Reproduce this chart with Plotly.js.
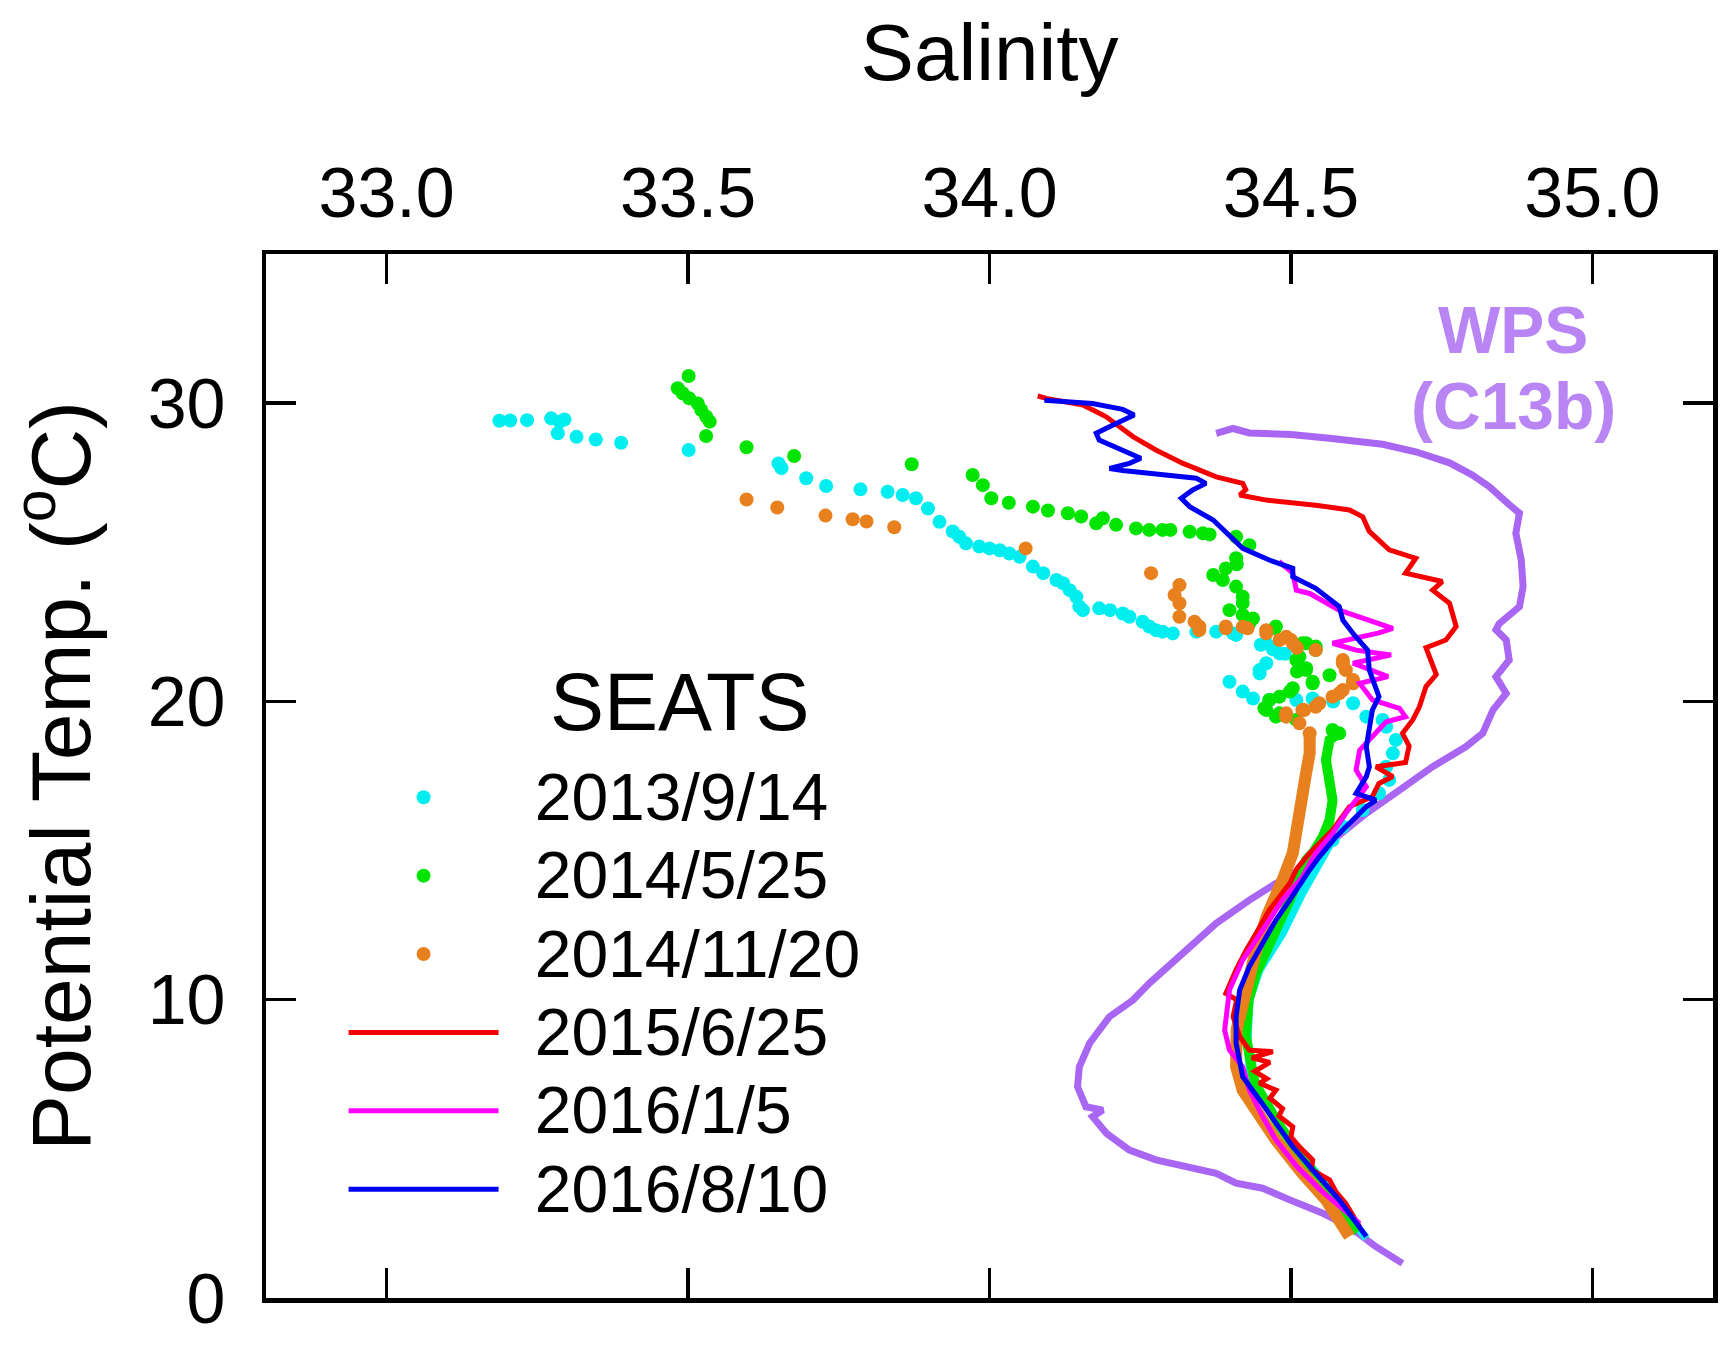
<!DOCTYPE html>
<html><head><meta charset="utf-8">
<script src="https://cdn.plot.ly/plotly-3.0.1.min.js"></script>
<style>html,body{margin:0;padding:0;background:#fff}#chart{width:1734px;height:1347px}</style>
</head><body><div id="chart"></div>
<script>
// ---- tick labels ----
const xTickVals = [33.0, 33.5, 34.0, 34.5, 35.0];
const xTickText = ['33.0', '33.5', '34.0', '34.5', '35.0'];
const yTickVals = [0, 10, 20, 30];
const yTickText = ['0', '10', '20', '30'];
const seriesNames = ['2013/9/14', '2014/5/25', '2014/11/20', '2015/6/25', '2016/1/5', '2016/8/10'];

// ---- data: [salinity, potential temperature] ----
const wps = [[34.376,28.99],[34.404,29.15],[34.431,29.0],[34.50,28.95],[34.564,28.82],[34.652,28.62],[34.707,28.37],[34.763,28.0],[34.80,27.6],[34.829,27.2],[34.862,26.6],[34.879,26.31],[34.873,25.64],[34.882,24.74],[34.885,23.85],[34.879,23.18],[34.845,22.6],[34.84,22.4],[34.857,22.06],[34.862,21.39],[34.840,20.83],[34.857,20.27],[34.835,19.71],[34.818,18.93],[34.79,18.48],[34.735,17.81],[34.680,17.03],[34.625,16.25],[34.570,15.35],[34.531,14.57],[34.475,13.9],[34.431,13.34],[34.376,12.56],[34.332,11.78],[34.293,11.11],[34.265,10.55],[34.238,9.99],[34.199,9.43],[34.166,8.54],[34.149,7.75],[34.146,7.08],[34.160,6.41],[34.188,6.30],[34.171,6.08],[34.194,5.52],[34.232,4.96],[34.276,4.63],[34.332,4.40],[34.376,4.18],[34.409,3.85],[34.453,3.68],[34.498,3.29],[34.553,2.84],[34.597,2.39],[34.641,1.72],[34.685,1.16]];

const cyanPts = [[33.187,29.41],[33.205,29.42],[33.233,29.43],[33.273,29.49],[33.287,29.38],[33.295,29.45],[33.284,28.99],[33.315,28.87],[33.347,28.78],[33.389,28.67],[33.501,28.43],[33.650,27.98],[33.655,27.82],[33.696,27.48],[33.729,27.22],[33.786,27.11],[33.831,27.03],[33.856,26.92],[33.878,26.81],[33.898,26.47],[33.917,26.02],[33.939,25.70],[33.950,25.52],[33.961,25.30],[33.983,25.19],[34.000,25.13],[34.017,25.07],[34.033,24.96],[34.050,24.85],[34.072,24.52],[34.089,24.30],[34.111,24.07],[34.122,23.96],[34.133,23.73],[34.144,23.51],[34.149,23.18],[34.155,23.06],[34.182,23.12],[34.200,23.06],[34.221,22.95],[34.232,22.84],[34.254,22.67],[34.265,22.51],[34.276,22.39],[34.287,22.34],[34.304,22.28],[34.343,22.34],[34.376,22.34],[34.404,22.28],[34.409,22.23],[34.450,21.90],[34.459,21.95],[34.470,21.75],[34.481,21.61],[34.490,21.60],[34.459,21.28],[34.448,21.05],[34.448,20.94],[34.398,20.66],[34.420,20.33],[34.437,20.10],[34.464,20.05],[34.509,20.05],[34.536,20.10],[34.570,20.00],[34.603,19.94],[34.625,19.49],[34.652,19.38],[34.658,19.15],[34.674,18.71],[34.669,18.26],[34.658,17.81],[34.663,17.37],[34.646,16.92],[34.619,16.36],[34.586,15.80],[34.569,15.35]];
const cyanDeep = [[34.569,15.35],[34.545,14.5],[34.519,13.57],[34.486,12.22],[34.448,11.0],[34.431,9.99],[34.428,8.54],[34.432,7.6],[34.46,6.5],[34.50,5.2],[34.55,4.0],[34.625,2.0]];

const greenPts = [[33.501,30.91],[33.483,30.50],[33.491,30.33],[33.502,30.16],[33.516,29.99],[33.522,29.77],[33.530,29.55],[33.536,29.38],[33.530,28.90],[33.597,28.52],[33.676,28.23],[33.871,27.95],[33.972,27.59],[33.989,27.25],[34.003,26.81],[34.032,26.66],[34.072,26.53],[34.097,26.40],[34.130,26.31],[34.152,26.20],[34.177,25.97],[34.188,26.14],[34.210,25.92],[34.243,25.80],[34.265,25.75],[34.287,25.75],[34.300,25.75],[34.332,25.69],[34.354,25.64],[34.365,25.60],[34.409,25.52],[34.431,25.24],[34.409,24.80],[34.410,24.60],[34.392,24.46],[34.371,24.24],[34.387,24.07],[34.409,23.85],[34.420,23.51],[34.420,23.30],[34.398,23.06],[34.420,22.90],[34.437,22.78],[34.431,22.62],[34.473,22.45],[34.475,22.51],[34.519,21.95],[34.525,21.95],[34.541,21.84],[34.541,21.72],[34.514,21.50],[34.509,21.39],[34.525,21.11],[34.510,21.00],[34.525,21.05],[34.564,20.88],[34.536,20.66],[34.536,20.61],[34.503,20.44],[34.498,20.33],[34.481,20.16],[34.464,20.05],[34.456,19.77],[34.459,19.71],[34.481,19.60],[34.475,19.49],[34.509,19.38],[34.569,19.04],[34.580,18.93]];
const greenDeep = [[34.580,18.93],[34.564,18.71],[34.558,18.04],[34.564,17.37],[34.569,16.69],[34.564,16.02],[34.553,15.47],[34.536,14.91],[34.525,14.68],[34.498,13.34],[34.470,12.11],[34.442,10.88],[34.430,10.0],[34.425,8.8],[34.440,7.2],[34.480,5.8],[34.530,4.4],[34.610,2.2]];

const orangePts = [[33.597,26.77],[33.648,26.50],[33.728,26.23],[33.773,26.11],[33.796,26.03],[33.842,25.84],[34.060,25.13],[34.268,24.30],[34.315,23.90],[34.307,23.57],[34.315,23.29],[34.315,22.84],[34.340,22.67],[34.348,22.51],[34.348,22.39],[34.392,22.45],[34.392,22.51],[34.420,22.50],[34.428,22.45],[34.459,22.39],[34.459,22.28],[34.481,22.06],[34.492,22.17],[34.503,21.95],[34.500,22.06],[34.510,21.80],[34.541,21.72],[34.586,21.39],[34.586,21.28],[34.591,21.05],[34.603,20.72],[34.603,20.61],[34.586,20.38],[34.580,20.27],[34.569,20.16],[34.547,19.94],[34.541,19.82],[34.522,19.71],[34.519,19.71],[34.492,19.60],[34.492,19.49],[34.514,19.27],[34.531,18.93]];
const orangeDeep = [[34.531,18.93],[34.531,18.26],[34.525,17.59],[34.519,16.92],[34.514,16.25],[34.509,15.58],[34.503,14.91],[34.486,14.01],[34.460,12.80],[34.440,11.50],[34.426,10.21],[34.410,9.00],[34.409,7.75],[34.420,6.97],[34.442,6.30],[34.475,5.30],[34.519,4.18],[34.558,3.29],[34.597,2.06]];

const red = [[34.080,30.24],[34.094,30.16],[34.155,29.94],[34.193,29.55],[34.238,28.88],[34.276,28.43],[34.321,27.98],[34.376,27.53],[34.420,27.31],[34.425,27.1],[34.415,26.92],[34.459,26.75],[34.541,26.58],[34.597,26.42],[34.619,26.19],[34.630,25.7],[34.663,25.08],[34.707,24.8],[34.690,24.30],[34.751,24.02],[34.735,23.73],[34.763,23.29],[34.774,22.51],[34.757,22.06],[34.724,21.8],[34.735,21.17],[34.741,20.9],[34.724,20.5],[34.713,19.82],[34.702,19.38],[34.685,18.93],[34.696,18.5],[34.690,17.95],[34.641,17.81],[34.669,17.48],[34.646,17.25],[34.635,16.81],[34.597,16.47],[34.569,15.69],[34.531,14.91],[34.51,14.4],[34.498,13.9],[34.464,13.0],[34.442,12.22],[34.426,11.67],[34.409,11.0],[34.392,10.21],[34.41,10.0],[34.404,9.43],[34.415,8.76],[34.431,8.31],[34.47,8.26],[34.435,8.05],[34.465,7.9],[34.44,7.6],[34.46,7.35],[34.448,7.2],[34.475,6.97],[34.465,6.7],[34.486,6.35],[34.48,6.1],[34.503,5.74],[34.5,5.4],[34.514,5.07],[34.536,4.63],[34.534,4.3],[34.564,3.96],[34.575,3.55],[34.591,3.17],[34.614,2.39]];

const magenta = [[34.480,24.69],[34.503,24.30],[34.509,23.73],[34.531,23.62],[34.580,23.06],[34.669,22.45],[34.646,22.3],[34.569,21.95],[34.608,21.72],[34.666,21.56],[34.603,21.28],[34.661,20.83],[34.614,20.61],[34.635,20.05],[34.680,19.77],[34.690,19.49],[34.658,19.32],[34.614,18.37],[34.608,17.70],[34.625,17.14],[34.591,16.25],[34.569,15.58],[34.541,14.91],[34.519,14.12],[34.486,13.34],[34.448,12.22],[34.420,11.33],[34.398,10.33],[34.390,8.98],[34.398,8.31],[34.420,7.75],[34.431,6.97],[34.453,6.08],[34.475,5.30],[34.51,4.4],[34.55,3.6],[34.614,2.5]];

const blue = [[34.091,30.10],[34.127,30.05],[34.171,29.99],[34.221,29.79],[34.240,29.60],[34.210,29.32],[34.177,28.99],[34.182,28.76],[34.221,28.43],[34.251,28.15],[34.232,27.98],[34.199,27.81],[34.221,27.74],[34.293,27.59],[34.343,27.48],[34.359,27.31],[34.337,27.09],[34.318,26.81],[34.332,26.53],[34.371,26.08],[34.387,25.75],[34.420,25.13],[34.464,24.74],[34.503,24.46],[34.503,24.18],[34.541,23.79],[34.580,23.18],[34.586,22.73],[34.605,22.23],[34.627,21.72],[34.630,21.05],[34.646,20.16],[34.635,19.71],[34.630,19.04],[34.625,18.48],[34.630,17.81],[34.625,17.48],[34.608,16.92],[34.641,16.69],[34.625,16.47],[34.603,16.02],[34.575,15.47],[34.547,14.79],[34.531,14.35],[34.498,13.34],[34.475,12.67],[34.453,11.89],[34.431,11.11],[34.415,10.33],[34.409,9.43],[34.409,8.54],[34.420,7.42],[34.448,6.64],[34.475,5.86],[34.503,5.07],[34.541,4.18],[34.580,3.29],[34.625,2.06]];

// ---- styling ----
const FONT = 'Liberation Sans, Arial, Helvetica, sans-serif';
const C = {cyan:'#00eef0', green:'#00e400', orange:'#e8801e', red:'#f40000', magenta:'#ff00ff', blue:'#0000f2', wps:'#a866f2', wpsText:'#b985f5'};

const xs = a => a.map(p => p[0]);
const ys = a => a.map(p => p[1]);
// legend label: small gap then the name in the reference's larger type
const legendLabel = n => '<span style="font-size:56px">\u00a0\u00a0</span><span style="font-size:66px">' + n + '</span>';

function pts(data, color, name, group) {
  return {type:'scatter', mode:'markers', x:xs(data), y:ys(data), name:legendLabel(name), legendgroup:group,
    marker:{color:color, size:14, line:{width:0}}, hoverinfo:'skip'};
}
function deep(data, color, width, group) {
  return {type:'scatter', mode:'lines', x:xs(data), y:ys(data), legendgroup:group, showlegend:false,
    line:{color:color, width:width, shape:'linear'}, hoverinfo:'skip'};
}
function line(data, color, name) {
  return {type:'scatter', mode:'lines', x:xs(data), y:ys(data), name:legendLabel(name),
    line:{color:color, width:5}, hoverinfo:'skip'};
}

const traces = [
  {type:'scatter', mode:'lines', x:xs(wps), y:ys(wps), showlegend:false, line:{color:C.wps, width:7}, hoverinfo:'skip'},
  pts(cyanPts, C.cyan, seriesNames[0], 'c'),
  deep(cyanDeep, C.cyan, 8, 'c'),
  pts(greenPts, C.green, seriesNames[1], 'g'),
  deep(greenDeep, C.green, 10, 'g'),
  pts(orangePts, C.orange, seriesNames[2], 'o'),
  deep(orangeDeep, C.orange, 12, 'o'),
  line(red, C.red, seriesNames[3]),
  line(magenta, C.magenta, seriesNames[4]),
  line(blue, C.blue, seriesNames[5])
];

const axisCommon = {
  showline:true, linewidth:4.5, linecolor:'#000', mirror:'ticks',
  ticks:'inside', ticklen:30, tickwidth:3.5, tickcolor:'#000',
  showgrid:false, zeroline:false, automargin:false,
  tickfont:{family:FONT, size:70, color:'#000'}
};

const layout = {
  width:1734, height:1347,
  margin:{l:266, r:21, t:254, b:49, pad:0},
  paper_bgcolor:'#ffffff', plot_bgcolor:'#ffffff',
  font:{family:FONT, color:'#000', size:58},
  xaxis:Object.assign({}, axisCommon, {
    range:[32.8, 35.2], side:'top', tickmode:'array', tickvals:xTickVals, ticktext:xTickText,
    ticklabelstandoff:5,
    title:{text:'Salinity', font:{family:FONT, size:80, color:'#000'}, standoff:48}
  }),
  yaxis:Object.assign({}, axisCommon, {
    range:[0, 35], tickmode:'array', tickvals:yTickVals, ticktext:yTickText,
    ticklabelstandoff:22,
    title:{text:'Potential Temp. (<sup>o</sup>C)', font:{family:FONT, size:84, color:'#000'}, standoff:30}
  }),
  showlegend:true,
  legend:{
    x:0.0536, y:0.522, xanchor:'left', yanchor:'top',
    bgcolor:'rgba(0,0,0,0)', borderwidth:0,
    font:{family:FONT, size:58, color:'#000'},
    itemwidth:150, tracegroupgap:0, itemclick:false, itemdoubleclick:false
  },
  annotations:[
    {xref:'paper', yref:'paper', x:0.2861, y:0.5709, text:'SEATS', showarrow:false,
     font:{family:FONT, size:81, color:'#000'}, xanchor:'center', yanchor:'middle'},
    {xref:'x', yref:'y', x:34.869, y:32.45, text:'<b>WPS</b>', showarrow:false,
     font:{family:FONT, size:66, color:C.wpsText}, xanchor:'center', yanchor:'middle'},
    {xref:'x', yref:'y', x:34.869, y:29.92, text:'<b>(C13b)</b>', showarrow:false,
     font:{family:FONT, size:66, color:C.wpsText}, xanchor:'center', yanchor:'middle'}
  ]
};

Plotly.newPlot('chart', traces, layout, {displayModeBar:false, staticPlot:true});
</script>
</body></html>
